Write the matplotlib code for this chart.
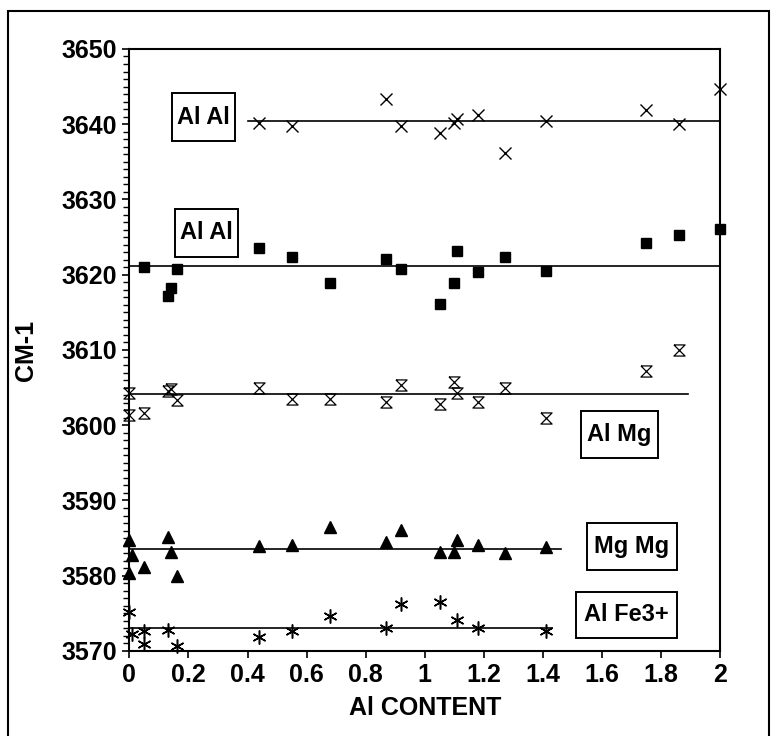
import matplotlib
matplotlib.use("Agg")
import matplotlib.pyplot as plt
from matplotlib.patches import Rectangle
from matplotlib.ticker import MultipleLocator, FuncFormatter

plt.rcParams['font.family'] = ['Liberation Sans', 'DejaVu Sans']
plt.rcParams['font.weight'] = 'bold'

# Al Al (upper band, crosses)
alal1_x = [0.44, 0.55, 0.87, 0.92, 1.05, 1.10, 1.11, 1.18, 1.27, 1.41, 1.75, 1.86, 2.0]
alal1_y = [3640.2, 3639.8, 3643.4, 3639.8, 3638.8, 3640.2, 3640.7, 3641.2, 3636.2,
           3640.4, 3641.9, 3640.0, 3644.7]
alal1_fit = 3640.4
alal1_range = [0.4, 2.0]

# Al Al (lower band, squares)
alal2_x = [0.05, 0.13, 0.14, 0.16, 0.44, 0.55, 0.68, 0.87, 0.92, 1.05, 1.10, 1.11,
           1.18, 1.27, 1.41, 1.75, 1.86, 2.0]
alal2_y = [3621.0, 3617.2, 3618.2, 3620.7, 3623.5, 3622.3, 3618.9, 3622.1, 3620.7,
           3616.1, 3618.85, 3623.2, 3620.3, 3622.3, 3620.5, 3624.2, 3625.3, 3626.1]
alal2_fit = 3621.15
alal2_range = [0.0, 2.0]

# Al Mg (hourglass)
almg_x = [0.0, 0.0, 0.05, 0.13, 0.14, 0.16, 0.44, 0.55, 0.68, 0.87, 0.92, 1.05,
          1.10, 1.11, 1.18, 1.27, 1.41, 1.75, 1.86]
almg_y = [3604.3, 3601.3, 3601.6, 3604.6, 3604.8, 3603.4, 3605.0, 3603.5, 3603.5,
          3603.1, 3605.3, 3602.8, 3605.7, 3604.3, 3603.1, 3604.9, 3601.0, 3607.2, 3610.0]
almg_fit = 3604.1
almg_range = [0.0, 1.89]

# Mg Mg (triangles)
mgmg_x = [0.0, 0.01, 0.0, 0.05, 0.13, 0.14, 0.16, 0.44, 0.55, 0.68, 0.87, 0.92,
          1.05, 1.10, 1.11, 1.18, 1.27, 1.41]
mgmg_y = [3584.7, 3582.8, 3580.4, 3581.15, 3585.1, 3583.1, 3579.9, 3584.0, 3584.1,
          3586.45, 3584.5, 3586.1, 3583.15, 3583.2, 3584.8, 3584.1, 3583.0, 3583.8]
mgmg_fit = 3583.6
mgmg_range = [0.0, 1.46]

# Al Fe3+ (asterisks)
alfe_x = [0.0, 0.01, 0.05, 0.05, 0.13, 0.16, 0.44, 0.55, 0.68, 0.87, 0.92, 1.05,
          1.11, 1.18, 1.41]
alfe_y = [3575.2, 3572.2, 3572.6, 3570.9, 3572.8, 3570.7, 3571.9, 3572.6, 3574.7,
          3573.0, 3576.2, 3576.5, 3574.1, 3573.0, 3572.6]
alfe_fit = 3573.05
alfe_range = [0.0, 1.43]

# label boxes: text, x0, x1, y0, y1 (data units)
labels = [
    ("Al Al", 0.1435, 0.358, 3637.8, 3644.1),
    ("Al Al", 0.1547, 0.3667, 3622.4, 3628.7),
    ("Al Mg", 1.5276, 1.7881, 3595.7, 3601.9),
    ("Mg Mg", 1.548, 1.852, 3580.7, 3587.05),
    ("Al Fe3+", 1.5117, 1.8525, 3571.7, 3577.9),
]

fig = plt.figure(figsize=(7.79, 7.36), dpi=100)
ax = fig.add_axes([0.166, 0.1155, 0.7587, 0.818])

# outer frame around the figure
fig.patches.append(Rectangle((0.0103, -0.02), 0.977, 1.005, transform=fig.transFigure,
                             fill=False, edgecolor='black', linewidth=1.5))

hourglass = [(-1, 1), (1, 1), (-1, -1), (1, -1), (-1, 1)]

ax.plot(alal1_x, alal1_y, ls='none', marker='x', ms=8.5, mew=1.0, color='black', clip_on=False)
ax.plot(alal2_x, alal2_y, ls='none', marker='s', ms=7.5, color='black', clip_on=False)
ax.plot(almg_x, almg_y, ls='none', marker=hourglass, ms=8, mew=0.9, mfc='none',
        color='black', clip_on=False)
ax.plot(mgmg_x, mgmg_y, ls='none', marker='^', ms=8, color='black', clip_on=False)
ax.plot(alfe_x, alfe_y, ls='none', marker=(6, 2, 0), ms=10, mew=1.1, color='black', clip_on=False)

for rng, val in [(alal1_range, alal1_fit), (alal2_range, alal2_fit), (almg_range, almg_fit),
                 (mgmg_range, mgmg_fit), (alfe_range, alfe_fit)]:
    ax.plot(rng, [val, val], color='black', lw=1.2)

for txt, x0, x1, y0, y1 in labels:
    ax.add_patch(Rectangle((x0, y0), x1 - x0, y1 - y0, fill=False, edgecolor='black',
                           linewidth=1.4, zorder=3))
    ax.text((x0 + x1) / 2, (y0 + y1) / 2, txt, ha='center', va='center',
            fontsize=17, fontweight='bold', zorder=4)

ax.set_xlim(0, 2)
ax.set_ylim(3570, 3650)
ax.xaxis.set_major_locator(MultipleLocator(0.2))
ax.xaxis.set_major_formatter(FuncFormatter(lambda v, p: '%g' % round(v, 2)))
ax.yaxis.set_major_locator(MultipleLocator(10))
ax.yaxis.set_minor_locator(MultipleLocator(1))

ax.tick_params(axis='both', which='major', direction='out', length=5, width=1.2,
               labelsize=18, pad=4)
ax.tick_params(axis='y', which='minor', direction='out', length=4, width=1.0)
for lab in ax.get_xticklabels() + ax.get_yticklabels():
    lab.set_fontweight('bold')

for sp in ax.spines.values():
    sp.set_linewidth(1.5)

ax.set_xlabel("Al CONTENT", fontsize=18, fontweight='bold')
ax.set_ylabel("CM-1", fontsize=18, fontweight='bold')
ax.xaxis.set_label_coords(0.5, -0.075)
ax.yaxis.set_label_coords(-0.155, 0.5)

fig.savefig("out.png", dpi=100)
